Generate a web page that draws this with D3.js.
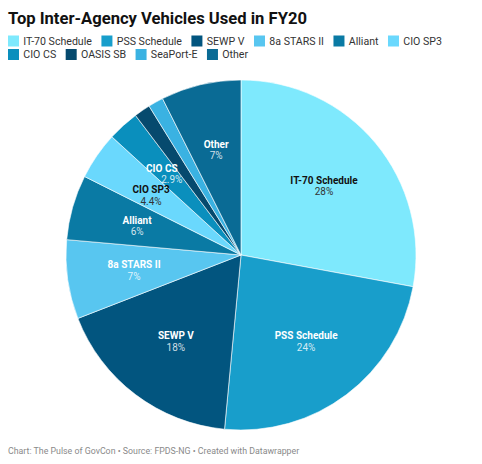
<!DOCTYPE html>
<html>
<head>
<meta charset="utf-8">
<script src="https://cdn.jsdelivr.net/npm/d3@7"></script>
<style>
  body { margin: 0; background: #fff; font-family: Roboto, sans-serif; }
  svg text { font-family: Roboto, sans-serif; }
</style>
</head>
<body>
<svg id="chart" width="482" height="464"></svg>
<script>
// Chart data
const vehicles = ["IT-70 Schedule", "PSS Schedule", "SEWP V", "8a STARS II", "Alliant",
                  "CIO SP3", "CIO CS", "OASIS SB", "SeaPort-E", "Other"];
const shares = [27.9, 23.6, 17.6, 7.3, 6.0, 4.4, 2.9, 1.5, 1.4, 7.4];
const shareLabels = ["28%", "24%", "18%", "7%", "6%", "4.4%", "2.9%", "", "", "7%"];
const showLabel = [true, true, true, true, true, true, true, false, false, true];
const sliceColors = ["#7ee9fd", "#189ecb", "#02557f", "#58c6f0", "#0a7aa4",
                     "#6ad8fd", "#0a8fbd", "#064a6e", "#3ab2e2", "#0a6b95"];
const darkText = [true, false, false, false, false, true, false, false, false, false];

// small nudges so the CIO CS label clears CIO SP3
const nameNudge = { "CIO CS": [-6.5, -1.5], "CIO SP3": [-1, 1.5] };
const pctNudge = { "CIO CS": [3.5, -1.5], "CIO SP3": [-1, 1.5] };

const svg = d3.select("#chart");

// Title
svg.append("text")
  .attr("x", 8).attr("y", 23.5)
  .attr("font-size", 16.6).attr("font-weight", 700)
  .attr("fill", "#111")
  .text("Top Inter-Agency Vehicles Used in FY20");

// Legend, two rows (new row starts at CIO CS)
const legend = svg.append("g");
let lx = 8, ly = 35;
vehicles.forEach((name, i) => {
  const item = legend.append("g");
  const label = item.append("text")
    .attr("x", 15.3).attr("y", 9.8)
    .attr("font-size", 10.6).attr("fill", "#333")
    .text(name);
  const w = 15.3 + label.node().getComputedTextLength();
  if (i === 6) { lx = 8; ly += 13.5; }
  item.attr("transform", "translate(" + lx + "," + ly + ")");
  item.insert("rect", "text")
    .attr("y", 0.5)
    .attr("width", 11).attr("height", 11)
    .attr("fill", sliceColors[i]);
  lx += w + 9.5;
});

// Pie
const cx = 241, cy = 255, radius = 175;
const pie = d3.pie().sort(null).value(d => d.value);
const arcs = pie(vehicles.map((name, i) => ({ name: name, value: shares[i], idx: i })));
const arc = d3.arc().innerRadius(0).outerRadius(radius);
const labelArc = d3.arc().innerRadius(108).outerRadius(108);

const g = svg.append("g").attr("transform", "translate(" + cx + "," + cy + ")");

g.selectAll("path")
  .data(arcs)
  .enter()
  .append("path")
    .attr("d", arc)
    .attr("fill", d => sliceColors[d.data.idx])
    .attr("stroke", "#fff")
    .attr("stroke-width", 0.6);

const labels = g.selectAll(".lbl")
  .data(arcs.filter(d => showLabel[d.data.idx]))
  .enter()
  .append("g")
    .attr("class", "lbl")
    .attr("transform", d => "translate(" + labelArc.centroid(d) + ")");

labels.append("text")
  .attr("text-anchor", "middle")
  .attr("x", d => (nameNudge[d.data.name] || [0, 0])[0])
  .attr("y", d => -2 + (nameNudge[d.data.name] || [0, 0])[1])
  .attr("font-size", 10).attr("font-weight", 700)
  .attr("fill", d => darkText[d.data.idx] ? "#111" : "#fff")
  .text(d => d.data.name);

labels.append("text")
  .attr("text-anchor", "middle")
  .attr("x", d => (pctNudge[d.data.name] || [0, 0])[0])
  .attr("y", d => 9.5 + (pctNudge[d.data.name] || [0, 0])[1])
  .attr("font-size", 10)
  .attr("fill", d => darkText[d.data.idx] ? "#333" : "#fff")
  .attr("fill-opacity", d => darkText[d.data.idx] ? 1 : 0.82)
  .text(d => shareLabels[d.data.idx]);

// Footer
svg.append("text")
  .attr("x", 8).attr("y", 454)
  .attr("font-size", 8.8).attr("fill", "#8a8a8a")
  .text("Chart: The Pulse of GovCon \u2022 Source: FPDS-NG \u2022 Created with Datawrapper");
</script>
</body>
</html>
